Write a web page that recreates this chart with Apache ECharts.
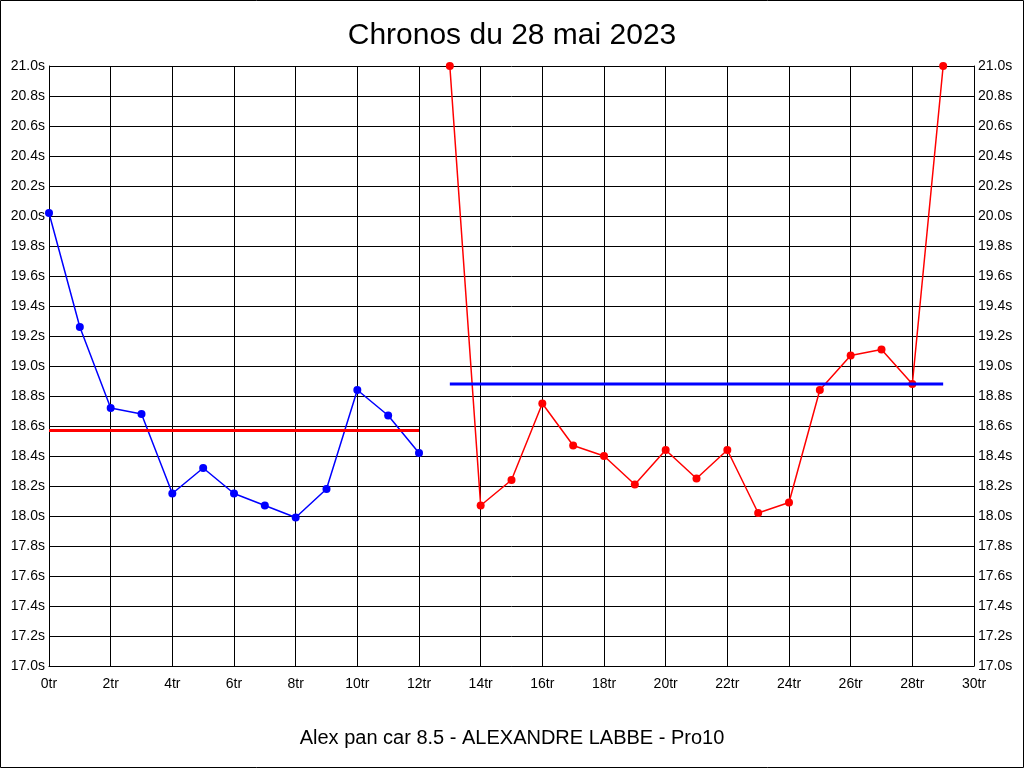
<!DOCTYPE html>
<html><head><meta charset="utf-8">
<script src="https://cdn.jsdelivr.net/npm/echarts@6/dist/echarts.min.js"></script>
<style>html,body{margin:0;padding:0;background:#fff}#c{width:1024px;height:768px}</style>
</head><body><div id="c"></div>
<script>
var titleText = 'Chronos du 28 mai 2023';
var subtitleText = 'Alex pan car 8.5 - ALEXANDRE LABBE - Pro10';
var blueLaps = [0,1,2,3,4,5,6,7,8,9,10,11,12];
var blueTimes = [20.02,19.26,18.72,18.68,18.15,18.32,18.15,18.07,17.99,18.18,18.84,18.67,18.42];
var redLaps = [13,14,15,16,17,18,19,20,21,22,23,24,25,26,27,28,29];
var redTimes = [21.0,18.07,18.24,18.75,18.47,18.40,18.21,18.44,18.25,18.44,18.02,18.09,18.84,19.07,19.11,18.88,21.0];
var blueAvg = 18.57;  // drawn in red over blue laps
var redAvg = 18.88;   // drawn in blue over red laps

function pairs(xs, ys){ return xs.map(function(x,i){return [x, ys[i]];}); }
var font = 'Liberation Sans, Arial, sans-serif';
var chart = echarts.init(document.getElementById('c'), null, {renderer:'canvas'});
var yLab = {color:'#000', fontFamily:font, fontSize:14, formatter:function(v){return v.toFixed(1)+'s';}, margin:4};
chart.setOption({
  animation:false,
  backgroundColor:'#fff',
  title:[
    {text:titleText, left:'center', top:16, textStyle:{fontFamily:font, fontSize:30, fontWeight:'normal', color:'#000'}},
    {text:subtitleText, left:'center', top:723, textStyle:{fontFamily:font, fontSize:20, fontWeight:'normal', color:'#000'}}
  ],
  graphic:[{type:'rect', shape:{x:0.5,y:0.5,width:1023,height:767}, style:{fill:null, stroke:'#000', lineWidth:1}, silent:true}],
  grid:{left:49, right:50, top:66, bottom:102, containLabel:false},
  xAxis:{type:'value', min:0, max:30, interval:2,
    axisLine:{show:true, lineStyle:{color:'#000', width:1}}, axisTick:{show:false},
    axisLabel:{color:'#000', fontFamily:font, fontSize:14, formatter:'{value}tr', margin:11},
    splitLine:{show:true, lineStyle:{color:'#000', width:1}}},
  yAxis:[
    {type:'value', min:17, max:21, interval:0.2, position:'left',
     axisLine:{show:true, lineStyle:{color:'#000'}}, axisTick:{show:false}, axisLabel:yLab,
     splitLine:{show:true, lineStyle:{color:'#000', width:1}}},
    {type:'value', min:17, max:21, interval:0.2, position:'right',
     axisLine:{show:true, lineStyle:{color:'#000'}}, axisTick:{show:false}, axisLabel:yLab,
     splitLine:{show:false}}
  ],
  series:[
    {type:'line', data:pairs(blueLaps, blueTimes), color:'#0000ff', symbol:'circle', symbolSize:8,
     lineStyle:{color:'#0000ff', width:1.5}, itemStyle:{color:'#0000ff'}, z:3},
    {type:'line', data:pairs(redLaps, redTimes), color:'#ff0000', symbol:'circle', symbolSize:8,
     lineStyle:{color:'#ff0000', width:1.5}, itemStyle:{color:'#ff0000'}, z:3},
    {type:'line', data:[[blueLaps[0], blueAvg],[blueLaps[blueLaps.length-1], blueAvg]], symbol:'none',
     lineStyle:{color:'#ff0000', width:3}, z:4},
    {type:'line', data:[[redLaps[0], redAvg],[redLaps[redLaps.length-1], redAvg]], symbol:'none',
     lineStyle:{color:'#0000ff', width:3}, z:4}
  ]
});
</script></body></html>
